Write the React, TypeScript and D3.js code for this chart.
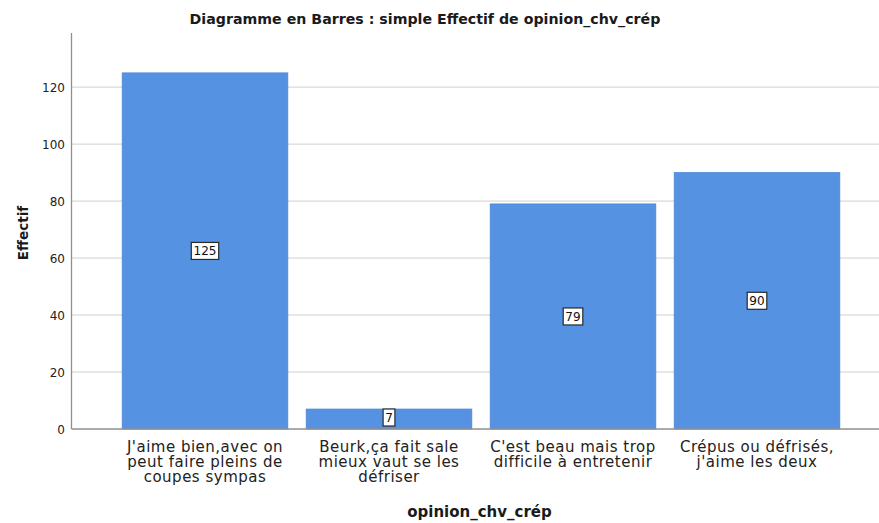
import React from "react";
import * as d3 from "d3";

const categories = [
  ["J'aime bien,avec on", "peut faire pleins de", "coupes sympas"],
  ["Beurk,ça fait sale", "mieux vaut se les", "défriser"],
  ["C'est beau mais trop", "difficile à entretenir"],
  ["Crépus ou défrisés,", "j'aime les deux"],
];
const values = [125, 7, 79, 90];
const yTicks = [0, 20, 40, 60, 80, 100, 120];

const W = 879;
const H = 523;

export default function App() {
  const x = d3
    .scaleBand<number>()
    .domain(values.map((_, i) => i))
    .range([113, 849])
    .paddingInner(0.1)
    .paddingOuter(0.05);
  const y = d3.scaleLinear().domain([0, 139]).range([429, 33]);
  const axisX = 71.5;
  const fontLabel = "'DejaVu Sans', Verdana, sans-serif";
  const fontBold = "'DejaVu Sans', sans-serif";

  return (
    <svg
      width={W}
      height={H}
      style={{ position: "absolute", left: 0, top: 0, background: "#fff" }}
    >
      <text
        x={425}
        y={24}
        textAnchor="middle"
        fontFamily={fontBold}
        fontWeight="bold"
        fontSize={14.2}
        fill="#1a1a1a"
      >
        Diagramme en Barres : simple Effectif de opinion_chv_crép
      </text>
      {yTicks.map((t) => (
        <g key={t}>
          {t > 0 && (
            <line x1={axisX} x2={W} y1={y(t)} y2={y(t)} stroke="#cfcfcf" strokeWidth={1} />
          )}
          <text
            x={65}
            y={y(t) + 4.5}
            textAnchor="end"
            fontFamily={fontLabel}
            fontSize={12}
            fill="#222"
          >
            {t}
          </text>
        </g>
      ))}
      {values.map((v, i) => (
        <rect
          key={i}
          x={x(i)!}
          y={y(v)}
          width={x.bandwidth()}
          height={y(0) - y(v)}
          fill="#5592e2"
          stroke="#4d88d6"
          strokeWidth={0.8}
        />
      ))}
      <line x1={axisX} x2={axisX} y1={33} y2={y(0)} stroke="#8f8f8f" strokeWidth={1.3} />
      <line x1={axisX} x2={W} y1={y(0)} y2={y(0)} stroke="#8f8f8f" strokeWidth={1.3} />
      {values.map((v, i) => {
        const cx = x(i)! + x.bandwidth() / 2;
        const cy = Math.min(y(v / 2), y(0) - 11.5);
        const label = String(v);
        const w = label.length * 7.8 + 4;
        return (
          <g key={"l" + i}>
            <rect
              x={cx - w / 2}
              y={cy - 8.5}
              width={w}
              height={17}
              fill="#fff"
              stroke="#2a2a2a"
              strokeWidth={1.2}
            />
            <text
              x={cx}
              y={cy + 4.5}
              textAnchor="middle"
              fontFamily={fontLabel}
              fontSize={12}
              fill="#111"
            >
              {label}
            </text>
          </g>
        );
      })}
      {categories.map((lines, i) => {
        const cx = x(i)! + x.bandwidth() / 2;
        return (
          <text
            key={"c" + i}
            textAnchor="middle"
            fontFamily={fontLabel}
            fontSize={15}
            letterSpacing={0.5}
            fill="#222"
          >
            {lines.map((ln, j) => (
              <tspan key={j} x={cx} y={452 + j * 15}>
                {ln}
              </tspan>
            ))}
          </text>
        );
      })}
      <text
        x={479.5}
        y={517}
        textAnchor="middle"
        fontFamily={fontBold}
        fontWeight="bold"
        fontSize={15}
        fill="#1a1a1a"
      >
        opinion_chv_crép
      </text>
      <text
        transform="translate(28,233) rotate(-90)"
        textAnchor="middle"
        fontFamily={fontBold}
        fontWeight="bold"
        fontSize={13.5}
        fill="#1a1a1a"
      >
        Effectif
      </text>
    </svg>
  );
}
